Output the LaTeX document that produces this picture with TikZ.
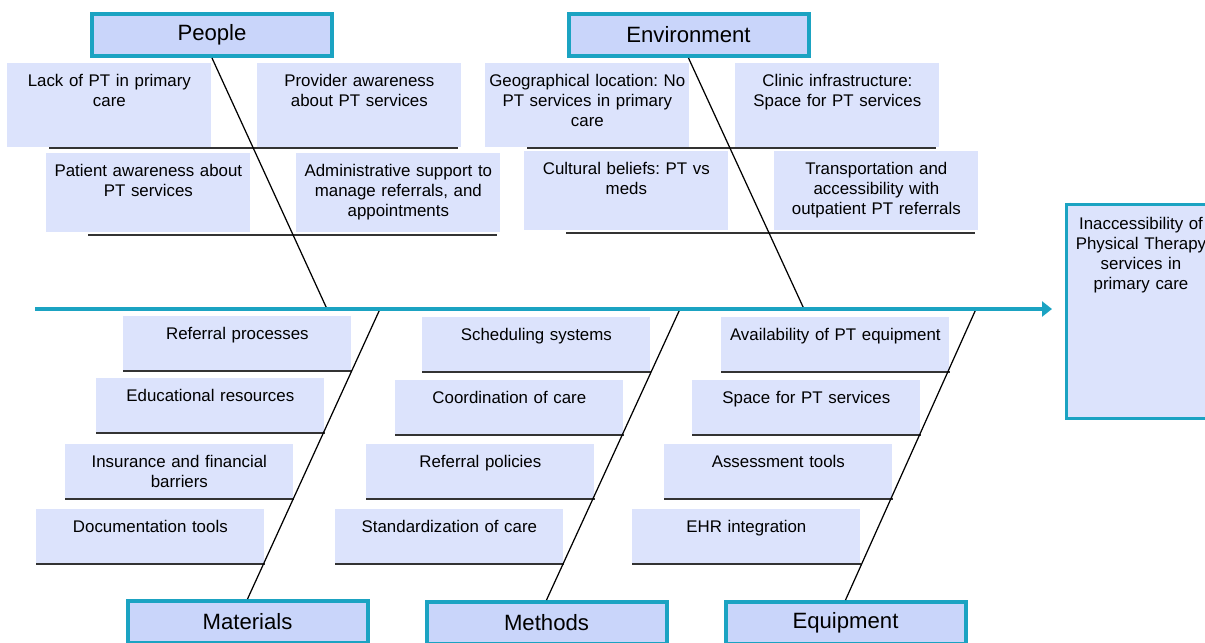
\documentclass[tikz,border=0pt]{standalone}
\usepackage{fontspec}
\setmainfont{Liberation Sans}
\usepackage{tikz}
\usetikzlibrary{positioning,arrows.meta}

\definecolor{teal}{RGB}{27,163,194}
\definecolor{catfill}{RGB}{201,213,250}
\definecolor{causefill}{RGB}{220,227,252}

\frenchspacing

\begin{document}
\begin{tikzpicture}[
    category/.style={
        draw=teal,
        line width=0.08cm,
        fill=catfill,
        minimum width=4.8cm,
        minimum height=0.84cm,
        inner sep=0pt,
        font=\fontsize{12.6}{15}\selectfont
    },
    effect/.style={
        draw=teal,
        line width=0.06cm,
        fill=causefill,
        align=center,
        text width=2.98cm,
        inner sep=0pt,
        text height=0.49cm,
        text depth=3.79cm,
        font=\fontsize{9.6}{11.4}\selectfont
    },
    cause/.style={
        fill=causefill,
        anchor=north west,
        align=center,
        inner sep=0pt,
        text height=0.46cm,
        font=\fontsize{9.6}{11.4}\selectfont
    },
    tall/.style={cause, text width=4.08cm, text depth=1.22cm},
    mid/.style={cause, text width=4.08cm, text depth=1.12cm},
    low/.style={cause, text width=4.56cm, text depth=0.62cm},
    spine/.style={draw=teal, line width=0.08cm, -{Triangle[length=0.2cm,width=0.3cm]}, shorten >=0.26cm},
    bone/.style={line width=0.7pt},
    rib/.style={draw=black!80, line width=1.1pt, shorten <=0.84cm, shorten >=0.08cm},
    lowrib/.style={draw=black!80, line width=1.1pt}
]

\useasboundingbox (0,0) rectangle (24.1,-12.84);
\clip (0,0) rectangle (24.1,-12.84);

% Causes above the spine
\node[tall] (lack) at (0.14,-1.26) {Lack of PT in primary\\care};
\node[tall] (provider) at (5.14,-1.26) {Provider awareness\\about PT services};
\node[mid] (patient) at (0.92,-3.06) {Patient awareness about\\PT services};
\node[mid] (admin) at (5.92,-3.06) {Administrative support to\\manage referrals, and\\appointments};

\node[tall] (geo) at (9.70,-1.26) {Geographical location: No\\PT services in primary\\care};
\node[tall] (clinic) at (14.70,-1.26) {Clinic infrastructure:\\Space for PT services};
\node[mid] (cultural) at (10.48,-3.02) {Cultural beliefs: PT vs\\meds};
\node[mid] (transport) at (15.48,-3.02) {Transportation and\\accessibility with\\outpatient PT referrals};

% Causes below the spine
\node[low] (referral) at (2.46,-6.32) {Referral processes};
\node[low] (educational) at (1.92,-7.56) {Educational resources};
\node[low] (insurance) at (1.30,-8.88) {Insurance and financial\\barriers};
\node[low] (documentation) at (0.72,-10.18) {Documentation tools};

\node[low] (scheduling) at (8.44,-6.34) {Scheduling systems};
\node[low] (coordination) at (7.90,-7.60) {Coordination of care};
\node[low] (policies) at (7.32,-8.88) {Referral policies};
\node[low] (standardization) at (6.70,-10.18) {Standardization of care};

\node[low] (availability) at (14.42,-6.34) {Availability of PT equipment};
\node[low] (space) at (13.84,-7.60) {Space for PT services};
\node[low] (assessment) at (13.28,-8.88) {Assessment tools};
\node[low] (ehr) at (12.64,-10.18) {EHR integration};

% Categories
\node[category] (people) at (4.24,-0.70) {People};
\node[category] (environment) at (13.77,-0.70) {Environment};
\node[category] (materials) at (4.95,-12.44) {Materials};
\node[category] (methods) at (10.93,-12.46) {Methods};
\node[category] (equipment) at (16.91,-12.46) {Equipment};

% Problem
\node[effect] (problem) at (22.82,-6.23) {Inaccessibility of\\Physical Therapy\\services in\\primary care};

% Spine and joints
\coordinate (tail) at (0.70,-6.18);
\coordinate (peoplejoint) at (6.54,-6.18);
\coordinate (environmentjoint) at (16.08,-6.18);
\coordinate (materialsjoint) at (7.60,-6.18);
\coordinate (methodsjoint) at (13.60,-6.18);
\coordinate (equipmentjoint) at (19.52,-6.18);

% Underlines
\draw[rib] (lack.south west) -- (provider.south east);
\draw[rib] ([yshift=-0.04cm]patient.south west) -- ([yshift=-0.04cm]admin.south east);
\draw[rib] (geo.south west) -- (clinic.south east);
\draw[rib] ([yshift=-0.04cm]cultural.south west) -- ([yshift=-0.04cm]transport.south east);

\foreach \c in {referral,educational,insurance,documentation,
                scheduling,coordination,policies,standardization,
                availability,space,assessment,ehr}
    \draw[lowrib] (\c.south west) -- (\c.south east);

% Bones
\draw[bone] (people.south) -- (peoplejoint);
\draw[bone] (environment.south) -- (environmentjoint);
\draw[bone] (materials.north) -- (materialsjoint);
\draw[bone] (methods.north) -- (methodsjoint);
\draw[bone] (equipment.north) -- (equipmentjoint);

\draw[spine] (tail) -- (problem.west |- tail);

\end{tikzpicture}
\end{document}
